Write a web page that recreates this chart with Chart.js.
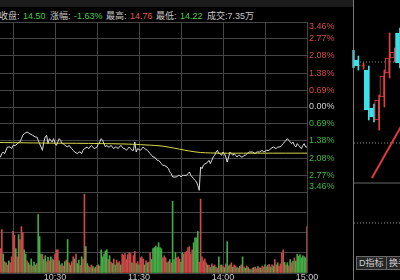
<!DOCTYPE html>
<html>
<head>
<meta charset="utf-8">
<script src="https://cdn.jsdelivr.net/npm/chart.js@4.4.1/dist/chart.umd.min.js"></script>
<style>
  html, body { margin:0; padding:0; background:#000; width:400px; height:280px; overflow:hidden; }
  #wrap { position:relative; width:400px; height:280px; overflow:hidden; font-family:"Liberation Sans","Noto Sans CJK SC",sans-serif; }
  canvas { position:absolute; }
  .hd { position:absolute; top:10px; font-size:9px; line-height:12px; white-space:nowrap; color:#c8c8c8; }
  .up { color:#e05656; }
  .dn { color:#4cc94c; }
  .btn { position:absolute; top:256px; height:12px; font-size:9px; line-height:12px; color:#cfcfcf; background:#262626; border:1px solid #6a6a6a; padding:0 2px; white-space:nowrap; }
</style>
</head>
<body>
<div id="wrap">
  <div style="position:absolute;left:0;top:0;width:353px;height:7px;background:#1b1b1b"></div>
  <span class="hd" style="left:-1px">收盘:</span>
  <span class="hd dn" style="left:23px">14.50</span>
  <span class="hd" style="left:50px">涨幅:</span>
  <span class="hd dn" style="left:74px">-1.63%</span>
  <span class="hd" style="left:106px">最高:</span>
  <span class="hd up" style="left:130px">14.76</span>
  <span class="hd" style="left:156px">最低:</span>
  <span class="hd dn" style="left:180px">14.22</span>
  <span class="hd" style="left:207px">成交:7.35万</span>

  <canvas id="priceChart" width="353" height="194" style="left:0;top:0"></canvas>
  <canvas id="volChart" width="353" height="90" style="left:0;top:190px"></canvas>

  <div style="position:absolute;left:353px;top:0;width:1px;height:280px;background:#7a7a7a"></div>
  <div style="position:absolute;left:352px;top:50px;width:3px;height:18px;background:#5cc8d0;opacity:0.7"></div>
  <canvas id="kChart" width="50" height="280" style="left:354px;top:0"></canvas>
  <div class="btn" style="left:356px">D指标</div>
  <div class="btn" style="left:386px">换手</div>
</div>

<script>
// 昨收 / 刻度
const prevClose = 14.74;
const pctTicks = [3.46, 2.77, 2.08, 1.38, 0.69, 0, -0.69, -1.38, -2.08, -2.77, -3.46];
const gridMinutes = [30, 60, 90, 120, 150, 180, 210, 240];
const timeLabels = { 60: '10:30', 120: '11:30', 180: '14:00', 240: '15:00' };
const volTicks = [0, 750, 1500, 2250, 3000];
const xMin = 20.7; // 9:30 lies left of the visible area

// 分时价格 [分钟, 价格]
const pricePts = [
  [19,14.43],[21,14.44],[22,14.46],[23,14.47],[24,14.46],[26,14.50],[28,14.50],[29,14.49],[30,14.51],[32,14.51],
  [33,14.52],[35,14.53],[36,14.55],[37,14.57],[38,14.58],[40,14.59],[42,14.58],[44,14.57],[46,14.56],[47,14.56],
  [48,14.54],[49,14.52],[50,14.50],[51,14.48],[52,14.53],[53,14.56],[54,14.57],[55,14.52],[56,14.55],[57,14.54],
  [58,14.53],[59,14.55],[60,14.52],[61,14.51],[62,14.53],[63,14.55],[64,14.54],[65,14.52],[66,14.52],[67,14.51],
  [69,14.50],[70,14.51],[71,14.50],[72,14.49],[73,14.48],[74,14.47],[76,14.46],[77,14.47],[78,14.47],[79,14.46],
  [80,14.48],[81,14.49],[83,14.50],[84,14.49],[85,14.50],[86,14.51],[87,14.50],[88,14.49],[90,14.50],[91,14.52],
  [92,14.53],[93,14.55],[94,14.54],[95,14.52],[96,14.50],[97,14.51],[98,14.50],[99,14.50],[100,14.51],[101,14.50],
  [102,14.49],[103,14.50],[104,14.50],[105,14.49],[106,14.50],[107,14.51],[108,14.50],[109,14.49],[110,14.49],[111,14.48],
  [112,14.49],[113,14.50],[114,14.49],[115,14.48],[116,14.48],[117,14.53],[118,14.47],[119,14.49],[121,14.48],[122,14.49],
  [123,14.50],[124,14.49],[126,14.48],[127,14.47],[128,14.46],[129,14.45],[130,14.44],[131,14.44],[133,14.42],[134,14.42],
  [135,14.41],[136,14.40],[137,14.39],[138,14.39],[140,14.38],[141,14.37],[142,14.35],[143,14.34],[144,14.32],[145,14.32],
  [147,14.32],[148,14.33],[149,14.33],[150,14.32],[151,14.33],[152,14.33],[154,14.33],[155,14.34],[156,14.35],[157,14.33],
  [158,14.32],[159,14.31],[160,14.30],[161,14.29],[162,14.27],[163,14.24],[164,14.38],[165,14.37],[166,14.39],[167,14.40],
  [168,14.40],[169,14.41],[170,14.42],[171,14.40],[172,14.42],[173,14.44],[174,14.45],[175,14.47],[176,14.48],[177,14.46],
  [178,14.46],[179,14.45],[180,14.47],[181,14.46],[182,14.44],[183,14.41],[184,14.44],[185,14.47],[186,14.46],[187,14.45],
  [188,14.46],[189,14.45],[190,14.44],[191,14.45],[192,14.45],[193,14.44],[194,14.44],[195,14.45],[196,14.45],[197,14.46],
  [199,14.47],[201,14.47],[203,14.46],[204,14.47],[206,14.47],[208,14.48],[209,14.47],[211,14.48],[213,14.48],[214,14.49],
  [216,14.50],[218,14.49],[219,14.50],[221,14.50],[222,14.51],[223,14.52],[224,14.53],[225,14.54],[226,14.55],[227,14.54],
  [228,14.53],[229,14.52],[230,14.53],[231,14.51],[232,14.50],[233,14.52],[234,14.51],[235,14.50],[236,14.49],[237,14.51],
  [238,14.52],[239,14.50],[240,14.50]
];

// 均价线 [分钟, 均价]
const avgPts = [
  [19,14.527],[40,14.525],[60,14.523],[80,14.522],[97,14.520],[110,14.518],[121,14.514],[135,14.507],
  [142,14.498],[149,14.487],[156,14.476],[164,14.467],[178,14.463],[200,14.463],[220,14.463],[240,14.463]
];

// 成交量, 9:51 (分钟21) 到 15:00 (分钟240), 每分钟
const volStart = 21;
const volume = [
  900,1610,700,420,380,300,450,380,600,1540,
  1400,900,600,1420,1240,1720,1500,860,700,450,
  380,300,520,260,400,300,350,2170,1350,700,
  680,500,640,420,580,450,600,520,480,700,
  860,860,450,300,350,260,420,480,1240,380,
  300,420,600,520,700,350,480,280,600,520,
  2920,980,350,260,200,300,240,180,220,280,
  300,250,860,600,700,820,860,500,640,400,
  350,520,300,480,380,420,300,700,650,720,
  500,680,760,720,380,650,800,350,420,300,
  560,600,520,300,450,380,400,750,500,900,
  940,1000,940,1120,940,900,560,640,560,380,
  420,500,380,2660,500,750,560,600,520,400,
  750,700,760,800,940,980,700,860,1120,1300,
  1300,1540,400,2740,600,450,520,375,300,280,
  200,340,260,300,220,180,600,280,300,240,
  200,340,1160,260,300,380,220,300,260,200,
  180,250,300,600,220,180,260,200,150,120,
  180,200,220,160,240,200,180,260,220,300,
  240,280,320,220,300,260,500,300,380,260,
  340,750,860,400,300,380,260,500,380,440,
  560,440,700,620,680,560,640,600,560,1720
];
// R = 上涨红, G = 下跌绿
const volDir = [
  'RRGRGRGRRR','RGRGRRRGGR','GRGRGGRGGG','RGGRGRGRGR','RRGRGRGRGR','GRRGRGGRGR',
  'RGGRGRGRGR','GRGGGGGRGR','GRGRGRGRRR','RRRRGRRGRG','RRRGRGRRGG','GGGGGGRRRG',
  'RGRGGGRRRG','GRRRRRRRGG','GGRRRRRRGR','GRGRGRGRGR','GRGRGRGRRG','RGRGRGRGRG',
  'RGRRGRGRRG','RGRGRGRRGR','RRRGRGRGRG','RGGGGGGGGR'
].join('');

// 右侧K线
const kOpen  = [15.40, 15.34, 15.30, 14.92, 14.80, 15.03, 15.27, 15.42, 15.67];
const kClose = [15.34, 15.35, 14.90, 14.83, 15.00, 15.24, 15.42, 15.48, 15.37];
const kHigh  = [15.44, 15.37, 15.34, 14.96, 15.05, 15.30, 15.67, 15.52, 15.72];
const kLow   = [15.30, 15.31, 14.80, 14.78, 14.70, 14.93, 15.22, 15.38, 15.32];
const trendLine = [[3.7, 14.22], [9.9, 14.79]];
const kDotted = [15.38, 14.57, 13.77];
const kSolid = 14.17;

const upColor = '#d24c4c';
const downColor = '#45b545';
const gridColor = '#454545';
const pct = p => (p / prevClose - 1) * 100;

const priceLabels = {
  id: 'priceLabels',
  afterDraw(chart) {
    const { ctx, scales: { y } } = chart;
    ctx.save();
    ctx.font = '9px "Liberation Sans", sans-serif';
    ctx.textBaseline = 'middle';
    ctx.textAlign = 'left';
    pctTicks.forEach(v => {
      let py = y.getPixelForValue(v);
      py = Math.min(Math.max(py, 27), 187);
      ctx.fillStyle = v > 0 ? upColor : v < 0 ? downColor : '#d0d0d0';
      ctx.fillText(Math.abs(v).toFixed(2) + '%', 309, py);
    });
    ctx.restore();
  }
};

const timeAxisLabels = {
  id: 'timeAxisLabels',
  afterDraw(chart) {
    const { ctx, scales: { x } } = chart;
    ctx.save();
    ctx.font = '9px "Liberation Sans", sans-serif';
    ctx.textBaseline = 'middle';
    ctx.textAlign = 'center';
    ctx.fillStyle = '#c8c8c8';
    Object.keys(timeLabels).forEach(m => {
      ctx.fillText(timeLabels[m], x.getPixelForValue(+m), 88);
    });
    ctx.restore();
  }
};

const xAxis = {
  type: 'linear', min: xMin, max: 240, offset: false,
  afterBuildTicks: s => { s.ticks = gridMinutes.map(v => ({ value: v })); },
  ticks: { display: false },
  grid: { color: gridColor, drawTicks: false, offset: false },
  border: { display: false }
};

new Chart(document.getElementById('priceChart'), {
  type: 'line',
  data: {
    datasets: [
      {
        data: avgPts.map(([m, p]) => ({ x: m, y: pct(p) })),
        borderColor: '#d8d84e', borderWidth: 1, pointRadius: 0, tension: 0.3
      },
      {
        data: pricePts.map(([m, p]) => ({ x: m, y: pct(p) })),
        borderColor: '#dcdcdc', borderWidth: 1, pointRadius: 0, tension: 0
      }
    ]
  },
  options: {
    responsive: false, animation: false, events: [],
    layout: { padding: { top: 22, right: 46, bottom: 2, left: 0 } },
    plugins: { legend: { display: false }, tooltip: { enabled: false } },
    scales: {
      x: xAxis,
      y: {
        position: 'right', min: -3.46, max: 3.46,
        afterBuildTicks: s => { s.ticks = pctTicks.map(v => ({ value: v })); },
        ticks: { display: false },
        grid: { color: gridColor, drawTicks: false },
        border: { display: false }
      }
    }
  },
  plugins: [priceLabels]
});

new Chart(document.getElementById('volChart'), {
  type: 'bar',
  data: {
    datasets: [{
      data: volume.map((v, i) => ({ x: volStart + i, y: v })),
      backgroundColor: volume.map((v, i) => volDir[i] === 'R' ? '#c94848' : '#44aa44'),
      barThickness: 1, borderWidth: 0
    }]
  },
  options: {
    responsive: false, animation: false, events: [],
    layout: { padding: { top: 2, right: 46, bottom: 7, left: 0 } },
    plugins: { legend: { display: false }, tooltip: { enabled: false } },
    scales: {
      x: xAxis,
      y: {
        position: 'right', min: 0, max: 3000,
        afterBuildTicks: s => { s.ticks = volTicks.map(v => ({ value: v })); },
        ticks: { display: false },
        grid: { color: gridColor, drawTicks: false },
        border: { display: false }
      }
    }
  },
  plugins: [timeAxisLabels]
});

const kIdx = kOpen.map((v, i) => i + 1);
const kCol = kOpen.map((o, i) => kClose[i] >= o ? '#e04040' : '#40e0e8');
const hLine = (v, dash, color) => ({
  type: 'line', data: [{ x: 0.25, y: v }, { x: 9.87, y: v }],
  borderColor: color, borderWidth: 1, borderDash: dash, pointRadius: 0, order: 3
});

new Chart(document.getElementById('kChart'), {
  data: {
    datasets: [
      {
        type: 'bar',
        data: kIdx.map((x, i) => ({ x, y: [Math.min(kOpen[i], kClose[i]), Math.max(kOpen[i], kClose[i])] })),
        backgroundColor: kIdx.map((x, i) => kClose[i] >= kOpen[i] ? '#000' : '#40e0e8'),
        borderColor: kCol, borderWidth: 1, borderSkipped: false,
        barThickness: 4, order: 0
      },
      {
        type: 'bar',
        data: kIdx.map((x, i) => ({ x, y: [kLow[i], kHigh[i]] })),
        backgroundColor: kCol, barThickness: 1, borderWidth: 0, order: 1
      },
      {
        type: 'line', data: trendLine.map(([x, y]) => ({ x, y })),
        borderColor: '#e23a3a', borderWidth: 2, pointRadius: 0, order: 2
      },
      ...kDotted.map(v => hLine(v, [1, 2], '#8a8a8a')),
      hLine(kSolid, [], '#6a6a6a')
    ]
  },
  options: {
    responsive: false, animation: false, events: [],
    layout: { padding: 0 },
    plugins: { legend: { display: false }, tooltip: { enabled: false } },
    scales: {
      x: { type: 'linear', min: 0.25, max: 9.87, offset: false, display: false, grid: { display: false } },
      y: { min: 13.20, max: 16.00, display: false, grid: { display: false } }
    }
  }
});
</script>
</body>
</html>
